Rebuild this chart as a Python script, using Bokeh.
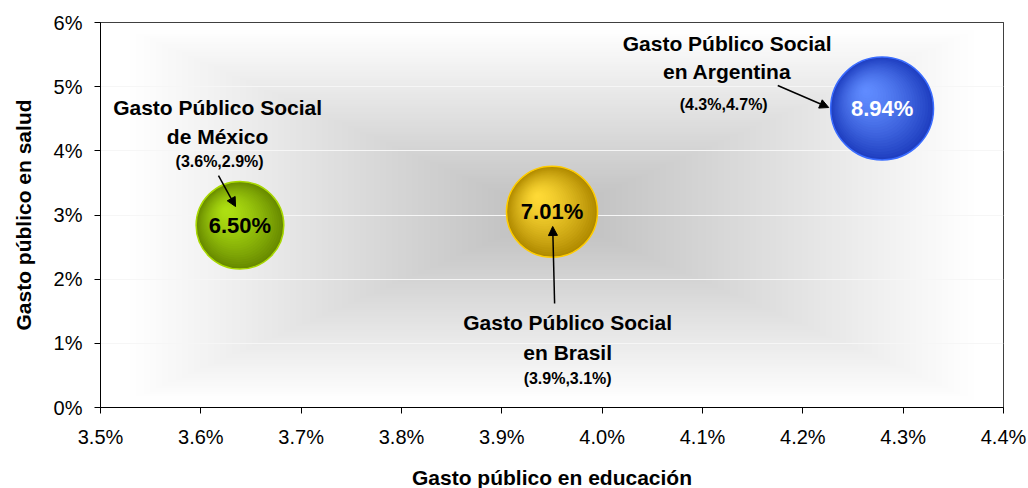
import numpy as np
from bokeh.plotting import figure
from bokeh.models import Range1d, FixedTicker, PrintfTickFormatter, Arrow, NormalHead
from bokeh.core.properties import value
from bokeh.embed import file_html
from bokeh.resources import INLINE

# ---------------- data ----------------
paises = ["México", "Brasil", "Argentina"]
gasto_educacion = [3.639, 3.950, 4.279]      # x (%)
gasto_salud = [2.84, 3.05, 4.66]             # y (%)
gasto_social = [6.50, 7.01, 8.94]            # bubble size (%)
bubble_labels = ["6.50%", "7.01%", "8.94%"]
title_line1 = ["Gasto Público Social", "Gasto Público Social", "Gasto Público Social"]
title_line2 = ["de México", "en Brasil", "en Argentina"]
coord_labels = ["(3.6%,2.9%)", "(3.9%,3.1%)", "(4.3%,4.7%)"]
x_ticks = [3.5, 3.6, 3.7, 3.8, 3.9, 4.0, 4.1, 4.2, 4.3, 4.4]
y_ticks = [0, 1, 2, 3, 4, 5, 6]

# ---------------- layout / style ----------------
FONT_NAME = "Liberation Sans"
FONT = value(FONT_NAME)
X0, X1, Y0, Y1 = 3.5, 4.4, 0.0, 6.0
FW, FH = 903, 385
PPX = FW / (X1 - X0)
PPY = FH / (Y1 - Y0)

edge_cols = ["#688a00", "#b08a00", "#1f3fc0"]
center_cols = ["#aee012", "#ffda36", "#608cff"]
outline_cols = ["#a8d800", "#ffcc00", "#3a6cff"]
label_cols = ["black", "black", "white"]

# annotation positions (data coords)
lab_x = [3.6167, 3.9656, 4.1246]
lab_y1 = [4.675, 1.329, 5.680]
lab_y2 = [4.223, 0.862, 5.236]
lab_y3 = [3.835, 0.452, 4.722]
lab_x3 = [3.6187, 3.9656, 4.1211]
arr_xs = [3.6176, 3.9526, 4.1750]
arr_ys = [3.615, 1.621, 5.018]
arr_xe = [3.6346, 3.9507, 4.2258]
arr_ye = [3.132, 2.821, 4.675]

p = figure(frame_width=FW, frame_height=FH, output_backend="svg", toolbar_location=None,
           x_range=Range1d(X0, X1), y_range=Range1d(Y0, Y1),
           min_border_left=100, min_border_right=24, min_border_top=22, min_border_bottom=80)
p.background_fill_color = "white"
p.border_fill_color = "white"
p.outline_line_color = "black"
p.outline_line_width = 1

# background gradient (rectangular path gradient)
GH, GW = 193, 452
ys_top = FH - (np.arange(GH) + 0.5) * FH / GH
xs_px = (np.arange(GW) + 0.5) * FW / GW
dx = np.abs(xs_px[None, :] - 451.5) / 421.0
dy = np.abs(ys_top[:, None] - 192.5) / 184.0
d = np.maximum(dx, dy)
g = 255 - 66 * np.clip(1 - d, 0, 1)
g = g.astype(np.uint8)
rgba = np.zeros((GH, GW, 4), dtype=np.uint8)
rgba[..., 0] = g
rgba[..., 1] = g
rgba[..., 2] = g
rgba[..., 3] = 255
img = rgba.view(dtype=np.uint32).reshape((GH, GW))
p.image_rgba(image=[img], x=X0, y=Y0, dw=X1 - X0, dh=Y1 - Y0, level="image")

p.xgrid.visible = False
p.ygrid.grid_line_color = "#f6f6f6"
p.ygrid.grid_line_width = 1.2

# axes
p.xaxis.ticker = FixedTicker(ticks=x_ticks)
p.yaxis.ticker = FixedTicker(ticks=y_ticks)
p.xaxis.formatter = PrintfTickFormatter(format="%.1f%%")
p.yaxis.formatter = PrintfTickFormatter(format="%d%%")
for ax in (p.xaxis, p.yaxis):
    ax.axis_line_color = "black"
    ax.major_tick_line_color = "black"
    ax.major_tick_in = 0
    ax.major_tick_out = 6
    ax.minor_tick_line_color = None
    ax.major_label_text_font = FONT_NAME
    ax.major_label_text_font_size = "20px"
    ax.major_label_text_color = "black"
    ax.axis_label_text_font = FONT_NAME
    ax.axis_label_text_font_size = "21px"
    ax.axis_label_text_font_style = "bold"
    ax.axis_label_text_color = "black"
p.xaxis.axis_label = "Gasto público en educación"
p.yaxis.axis_label = "Gasto público en salud"
p.xaxis.major_label_standoff = 12
p.xaxis.axis_label_standoff = 15
p.yaxis.major_label_standoff = 12
p.yaxis.axis_label_standoff = 16


def mix(c1, c2, t):
    a = [int(c1[i:i + 2], 16) for i in (1, 3, 5)]
    b = [int(c2[i:i + 2], 16) for i in (1, 3, 5)]
    return "#%02x%02x%02x" % tuple(int(round(a[k] + (b[k] - a[k]) * t)) for k in range(3))


xs = np.array(gasto_educacion)
ys = np.array(gasto_salud)
diam = 34.4 * np.sqrt(np.array(gasto_social))   # bubble area proportional to value
rad = diam / 2
HX, HY = -0.33, 0.35   # highlight offset (fraction of radius)
N = 26
for i in range(N):
    f = 1 - i / N
    cols = [mix(center_cols[k], edge_cols[k], f ** 1.5) for k in range(3)]
    cx = xs + HX * rad * (1 - f) / PPX
    cy = ys + HY * rad * (1 - f) / PPY
    p.scatter(x=cx, y=cy, size=diam * f, fill_color=cols, line_color=None)
p.scatter(x=xs, y=ys, size=diam, fill_color=None, line_color=outline_cols, line_width=1.5)

p.text(x=xs, y=ys, text=bubble_labels, text_color=label_cols, text_font=FONT,
       text_font_style="bold", text_font_size="22px", text_align="center", text_baseline="middle")

p.text(x=lab_x, y=lab_y1, text=title_line1, text_font=FONT, text_font_style="bold",
       text_font_size="21px", text_align="center", text_baseline="middle", text_color="black")
p.text(x=lab_x, y=lab_y2, text=title_line2, text_font=FONT, text_font_style="bold",
       text_font_size="21px", text_align="center", text_baseline="middle", text_color="black")
p.text(x=lab_x3, y=lab_y3, text=coord_labels, text_font=FONT, text_font_style="bold",
       text_font_size="16px", text_align="center", text_baseline="middle", text_color="black")

for k in range(3):
    p.add_layout(Arrow(end=NormalHead(size=9, fill_color="black", line_color="black"),
                       x_start=arr_xs[k], y_start=arr_ys[k], x_end=arr_xe[k], y_end=arr_ye[k],
                       line_color="black", line_width=1.5))

open("out.html", "w").write(file_html(p, INLINE))
